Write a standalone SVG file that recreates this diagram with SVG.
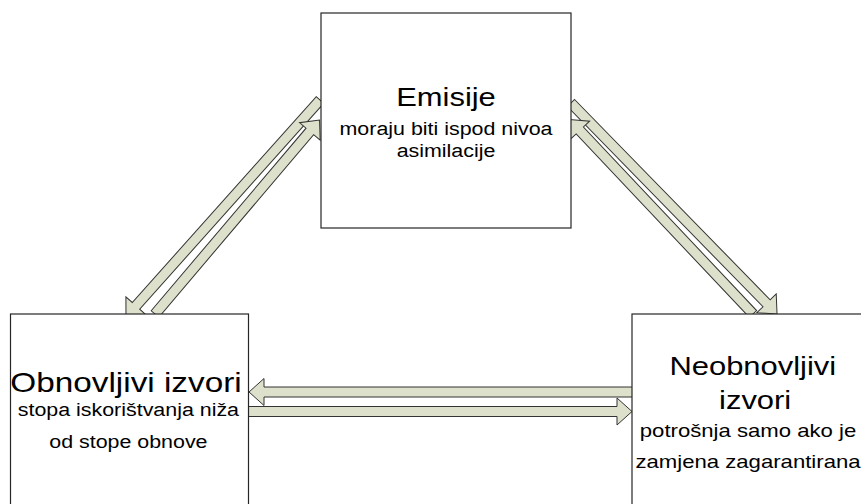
<svg xmlns="http://www.w3.org/2000/svg" width="861" height="504" viewBox="0 0 861 504">
<style>
.box{fill:#ffffff;stroke:#262626;stroke-width:1.2}
.arr{fill:#dde0cb;stroke:#333333;stroke-width:1;stroke-linejoin:miter}
text{font-family:"Liberation Sans",Arial,sans-serif;fill:#000;text-anchor:middle}
.t{font-size:26px}
.t2{font-size:28px}
.s{font-size:18px}
.s2{font-size:18.6px}
</style>
<rect width="861" height="504" fill="#ffffff"/>
<g id="connectors">
  <polygon class="arr" points="640,387 264,387 264,378.5 249,392 264,405.5 264,397 640,397"/>
  <polygon class="arr" points="240,406.5 617,406.5 617,398 632,411.5 617,425 617,416.5 240,416.5"/>
  <polygon class="arr" transform="translate(320,100) rotate(131.8)" points="0,-5 276.1,-5 276.1,-13.5 291.1,0 276.1,13.5 276.1,5 0,5"/>
  <polygon class="arr" transform="translate(155,314) rotate(-49.7)" points="0,-5 239.4,-5 239.4,-13.5 254.4,0 239.4,13.5 239.4,5 0,5"/>
  <polygon class="arr" transform="translate(571,103) rotate(45.68)" points="0,-5 279.9,-5 279.9,-13.5 294.9,0 279.9,13.5 279.9,5 0,5"/>
  <polygon class="arr" transform="translate(753,314) rotate(-133.33)" points="0,-5 252.4,-5 252.4,-13.5 267.4,0 252.4,13.5 252.4,5 0,5"/>
</g>
<g id="emisije">
  <rect class="box" x="321" y="13" width="250" height="215"/>
  <g transform="translate(446,0) scale(1.19,1)">
    <text class="t" x="0" y="106">Emisije</text>
    <text class="s" x="0" y="135">moraju biti ispod nivoa</text>
    <text class="s" x="0" y="157">asimilacije</text>
  </g>
</g>
<g id="obnovljivi">
  <rect class="box" x="10.5" y="314" width="238" height="200"/>
  <g transform="translate(126,0) scale(1.19,1)">
    <text class="t2" x="0" y="392">Obnovljivi izvori</text>
    <text class="s" x="2" y="416.5">stopa iskorištvanja niža</text>
    <text class="s" x="2" y="448">od stope obnove</text>
  </g>
</g>
<g id="neobnovljivi">
  <rect class="box" x="632" y="314" width="240" height="200"/>
  <g transform="translate(748,0) scale(1.19,1)">
    <text class="t" x="4" y="375">Neobnovljivi</text>
    <text class="t" x="6" y="409">izvori</text>
    <text class="s2" x="0" y="437">potrošnja samo ako je</text>
    <text class="s2" x="0" y="468">zamjena zagarantirana</text>
  </g>
</g>
</svg>
